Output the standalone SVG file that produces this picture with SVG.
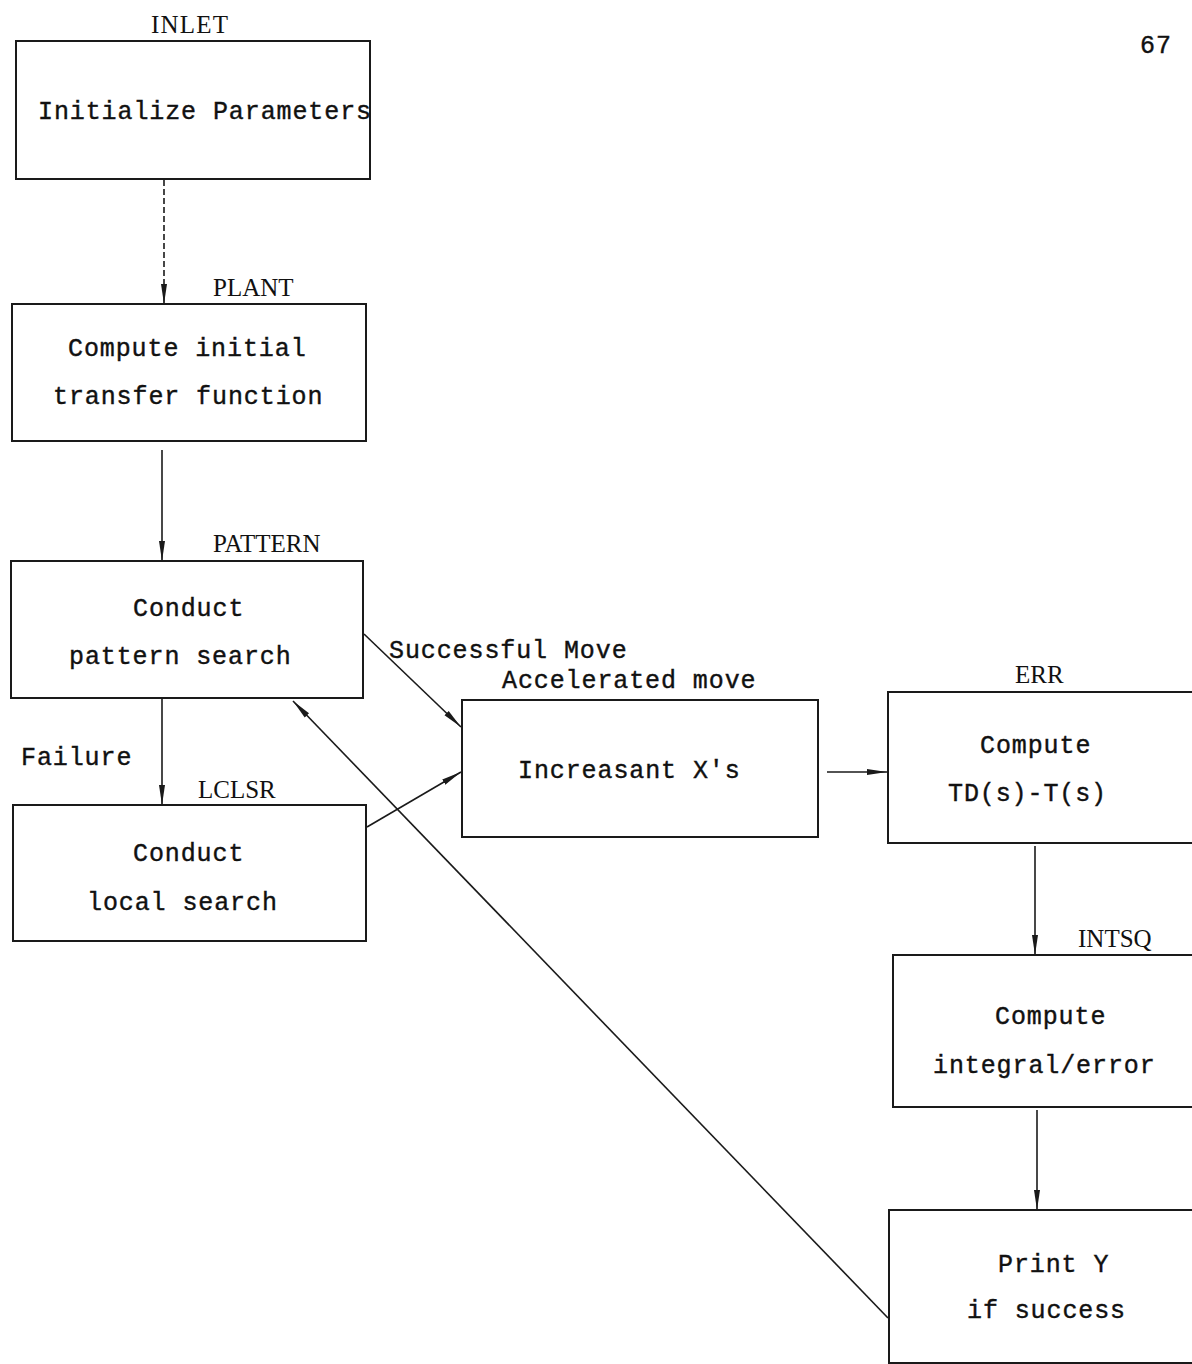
<svg xmlns="http://www.w3.org/2000/svg" width="1192" height="1364" viewBox="0 0 1192 1364">
<defs>
<style>
.box{fill:#fff;stroke:#1a1a1a;stroke-width:2}
.lbl{font-family:"Liberation Serif","Times New Roman",serif;font-size:25px;fill:#111}
.t{font-family:"Liberation Mono","Courier New",monospace;font-size:25px;letter-spacing:0.9px;fill:#111;stroke:#111;stroke-width:0.4}
.c{fill:none;stroke:#1a1a1a;stroke-width:1.6}
</style>
<marker id="ah" viewBox="0 0 20 8" refX="20" refY="4" markerWidth="20" markerHeight="8" markerUnits="userSpaceOnUse" orient="auto">
<path d="M0,1 L20,4 L0,7 Z" fill="#1a1a1a"/>
</marker>
</defs>
<rect width="1192" height="1364" fill="#fff"/>
<text class="t" x="1140" y="53">67</text>

<g id="connectors">
<line class="c" x1="164" y1="180" x2="164" y2="304" stroke-dasharray="6 3" marker-end="url(#ah)"/>
<line class="c" x1="162" y1="450" x2="162" y2="561" marker-end="url(#ah)"/>
<line class="c" x1="162" y1="698" x2="162" y2="805" marker-end="url(#ah)"/>
<line class="c" x1="364" y1="634" x2="461" y2="727" marker-end="url(#ah)"/>
<line class="c" x1="367" y1="827" x2="461" y2="772" marker-end="url(#ah)"/>
<line class="c" x1="827" y1="772" x2="887" y2="772" marker-end="url(#ah)"/>
<line class="c" x1="1035" y1="846" x2="1035" y2="955" marker-end="url(#ah)"/>
<line class="c" x1="1037" y1="1110" x2="1037" y2="1210" marker-end="url(#ah)"/>
<line class="c" x1="888" y1="1318" x2="293" y2="701" marker-end="url(#ah)"/>
<text class="t" x="389" y="658">Successful Move</text>
<text class="t" x="502" y="688">Accelerated move</text>
<text class="t" x="21" y="765">Failure</text>
</g>

<g id="inlet">
<text class="lbl" x="151" y="33" textLength="77">INLET</text>
<rect class="box" x="16" y="41" width="354" height="138"/>
<text class="t" x="38" y="119">Initialize Parameters</text>
</g>

<g id="plant">
<text class="lbl" x="213" y="296">PLANT</text>
<rect class="box" x="12" y="304" width="354" height="137"/>
<text class="t" x="68" y="356">Compute initial</text>
<text class="t" x="53" y="404">transfer function</text>
</g>

<g id="pattern">
<text class="lbl" x="213" y="552">PATTERN</text>
<rect class="box" x="11" y="561" width="352" height="137"/>
<text class="t" x="133" y="616">Conduct</text>
<text class="t" x="69" y="664">pattern search</text>
</g>

<g id="lclsr">
<text class="lbl" x="198" y="798">LCLSR</text>
<rect class="box" x="13" y="805" width="353" height="136"/>
<text class="t" x="133" y="861">Conduct</text>
<text class="t" x="87" y="910">local search</text>
</g>

<g id="increasant">
<rect class="box" x="462" y="700" width="356" height="137"/>
<text class="t" x="518" y="778">Increasant X's</text>
</g>

<g id="err">
<text class="lbl" x="1015" y="683">ERR</text>
<rect class="box" x="888" y="692" width="310" height="151"/>
<text class="t" x="980" y="753">Compute</text>
<text class="t" x="948" y="801">TD(s)-T(s)</text>
</g>

<g id="intsq">
<text class="lbl" x="1078" y="947">INTSQ</text>
<rect class="box" x="893" y="955" width="305" height="152"/>
<text class="t" x="995" y="1024">Compute</text>
<text class="t" x="933" y="1073">integral/error</text>
</g>

<g id="print">
<rect class="box" x="889" y="1210" width="309" height="153"/>
<text class="t" x="998" y="1272">Print Y</text>
<text class="t" x="967" y="1318">if success</text>
</g>
</svg>
